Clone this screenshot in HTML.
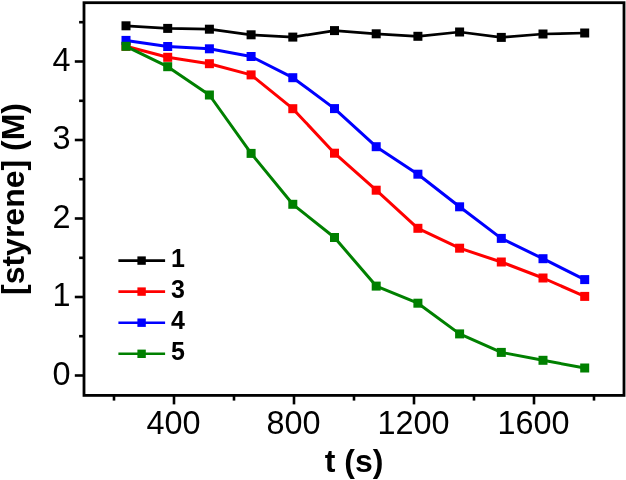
<!DOCTYPE html>
<html lang="en"><head><meta charset="utf-8"><title>[styrene] vs t</title>
<style>
html,body{margin:0;padding:0;background:#fff;}
body{width:626px;height:480px;overflow:hidden;}
svg{display:block;}
text{font-family:"Liberation Sans",Arial,Helvetica,sans-serif;fill:#000;}
.tk{font-size:32.4px;}
.ttl{font-size:32px;font-weight:bold;}
.lg{font-size:25px;font-weight:bold;}
</style></head><body>
<svg width="626" height="480" viewBox="0 0 626 480">
<defs><filter id="soft" x="-2%" y="-2%" width="104%" height="104%" color-interpolation-filters="sRGB"><feGaussianBlur stdDeviation="0.6"/></filter></defs>
<rect x="0" y="0" width="626" height="480" fill="#fff"/>
<g filter="url(#soft)">
<polyline points="126.0,25.8 167.7,28.4 209.4,29.2 251.1,34.8 292.8,37.1 334.5,30.6 376.2,33.8 417.9,36.3 459.6,32.0 501.3,37.4 543.0,34.0 584.7,33.0" fill="none" stroke="#000000" stroke-width="2.7" stroke-linejoin="round"/>
<rect x="121.5" y="21.3" width="9.0" height="9.0" fill="#000000"/>
<rect x="163.2" y="23.9" width="9.0" height="9.0" fill="#000000"/>
<rect x="204.9" y="24.7" width="9.0" height="9.0" fill="#000000"/>
<rect x="246.6" y="30.3" width="9.0" height="9.0" fill="#000000"/>
<rect x="288.3" y="32.6" width="9.0" height="9.0" fill="#000000"/>
<rect x="330.0" y="26.1" width="9.0" height="9.0" fill="#000000"/>
<rect x="371.7" y="29.3" width="9.0" height="9.0" fill="#000000"/>
<rect x="413.4" y="31.8" width="9.0" height="9.0" fill="#000000"/>
<rect x="455.1" y="27.5" width="9.0" height="9.0" fill="#000000"/>
<rect x="496.8" y="32.9" width="9.0" height="9.0" fill="#000000"/>
<rect x="538.5" y="29.5" width="9.0" height="9.0" fill="#000000"/>
<rect x="580.2" y="28.5" width="9.0" height="9.0" fill="#000000"/>
<polyline points="126.0,46.3 167.7,57.3 209.4,63.7 251.1,74.9 292.8,108.7 334.5,153.2 376.2,190.2 417.9,228.3 459.6,248.2 501.3,262.0 543.0,278.0 584.7,296.4" fill="none" stroke="#ff0000" stroke-width="3.0" stroke-linejoin="round"/>
<rect x="121.5" y="41.8" width="9.0" height="9.0" fill="#ff0000"/>
<rect x="163.2" y="52.8" width="9.0" height="9.0" fill="#ff0000"/>
<rect x="204.9" y="59.2" width="9.0" height="9.0" fill="#ff0000"/>
<rect x="246.6" y="70.4" width="9.0" height="9.0" fill="#ff0000"/>
<rect x="288.3" y="104.2" width="9.0" height="9.0" fill="#ff0000"/>
<rect x="330.0" y="148.7" width="9.0" height="9.0" fill="#ff0000"/>
<rect x="371.7" y="185.7" width="9.0" height="9.0" fill="#ff0000"/>
<rect x="413.4" y="223.8" width="9.0" height="9.0" fill="#ff0000"/>
<rect x="455.1" y="243.7" width="9.0" height="9.0" fill="#ff0000"/>
<rect x="496.8" y="257.5" width="9.0" height="9.0" fill="#ff0000"/>
<rect x="538.5" y="273.5" width="9.0" height="9.0" fill="#ff0000"/>
<rect x="580.2" y="291.9" width="9.0" height="9.0" fill="#ff0000"/>
<polyline points="126.0,40.4 167.7,46.5 209.4,48.8 251.1,56.5 292.8,77.7 334.5,108.6 376.2,146.7 417.9,174.2 459.6,206.8 501.3,238.4 543.0,258.7 584.7,279.6" fill="none" stroke="#0000ff" stroke-width="3.0" stroke-linejoin="round"/>
<rect x="121.5" y="35.9" width="9.0" height="9.0" fill="#0000ff"/>
<rect x="163.2" y="42.0" width="9.0" height="9.0" fill="#0000ff"/>
<rect x="204.9" y="44.3" width="9.0" height="9.0" fill="#0000ff"/>
<rect x="246.6" y="52.0" width="9.0" height="9.0" fill="#0000ff"/>
<rect x="288.3" y="73.2" width="9.0" height="9.0" fill="#0000ff"/>
<rect x="330.0" y="104.1" width="9.0" height="9.0" fill="#0000ff"/>
<rect x="371.7" y="142.2" width="9.0" height="9.0" fill="#0000ff"/>
<rect x="413.4" y="169.7" width="9.0" height="9.0" fill="#0000ff"/>
<rect x="455.1" y="202.3" width="9.0" height="9.0" fill="#0000ff"/>
<rect x="496.8" y="233.9" width="9.0" height="9.0" fill="#0000ff"/>
<rect x="538.5" y="254.2" width="9.0" height="9.0" fill="#0000ff"/>
<rect x="580.2" y="275.1" width="9.0" height="9.0" fill="#0000ff"/>
<polyline points="126.0,46.3 167.7,66.7 209.4,95.0 251.1,153.4 292.8,204.3 334.5,237.5 376.2,286.1 417.9,303.2 459.6,333.9 501.3,352.4 543.0,360.3 584.7,368.0" fill="none" stroke="#008000" stroke-width="3.0" stroke-linejoin="round"/>
<rect x="121.5" y="41.8" width="9.0" height="9.0" fill="#008000"/>
<rect x="163.2" y="62.2" width="9.0" height="9.0" fill="#008000"/>
<rect x="204.9" y="90.5" width="9.0" height="9.0" fill="#008000"/>
<rect x="246.6" y="148.9" width="9.0" height="9.0" fill="#008000"/>
<rect x="288.3" y="199.8" width="9.0" height="9.0" fill="#008000"/>
<rect x="330.0" y="233.0" width="9.0" height="9.0" fill="#008000"/>
<rect x="371.7" y="281.6" width="9.0" height="9.0" fill="#008000"/>
<rect x="413.4" y="298.7" width="9.0" height="9.0" fill="#008000"/>
<rect x="455.1" y="329.4" width="9.0" height="9.0" fill="#008000"/>
<rect x="496.8" y="347.9" width="9.0" height="9.0" fill="#008000"/>
<rect x="538.5" y="355.8" width="9.0" height="9.0" fill="#008000"/>
<rect x="580.2" y="363.5" width="9.0" height="9.0" fill="#008000"/>
<rect x="84.0" y="2.7" width="540.0" height="392.7" fill="none" stroke="#000" stroke-width="2.8"/>
<line x1="174.0" y1="395.4" x2="174.0" y2="404.4" stroke="#000" stroke-width="2.6"/>
<text class="tk" x="173.5" y="434.3" text-anchor="middle">400</text>
<line x1="294.0" y1="395.4" x2="294.0" y2="404.4" stroke="#000" stroke-width="2.6"/>
<text class="tk" x="293.5" y="434.3" text-anchor="middle">800</text>
<line x1="414.0" y1="395.4" x2="414.0" y2="404.4" stroke="#000" stroke-width="2.6"/>
<text class="tk" x="413.5" y="434.3" text-anchor="middle">1200</text>
<line x1="534.0" y1="395.4" x2="534.0" y2="404.4" stroke="#000" stroke-width="2.6"/>
<text class="tk" x="533.5" y="434.3" text-anchor="middle">1600</text>
<line x1="114.0" y1="395.4" x2="114.0" y2="400.6" stroke="#000" stroke-width="2.6"/>
<line x1="234.0" y1="395.4" x2="234.0" y2="400.6" stroke="#000" stroke-width="2.6"/>
<line x1="354.0" y1="395.4" x2="354.0" y2="400.6" stroke="#000" stroke-width="2.6"/>
<line x1="474.0" y1="395.4" x2="474.0" y2="400.6" stroke="#000" stroke-width="2.6"/>
<line x1="594.0" y1="395.4" x2="594.0" y2="400.6" stroke="#000" stroke-width="2.6"/>
<line x1="74.8" y1="375.5" x2="84.0" y2="375.5" stroke="#000" stroke-width="2.6"/>
<text class="tk" x="70.6" y="384.5" text-anchor="end">0</text>
<line x1="74.8" y1="297.0" x2="84.0" y2="297.0" stroke="#000" stroke-width="2.6"/>
<text class="tk" x="70.6" y="306.0" text-anchor="end">1</text>
<line x1="74.8" y1="218.5" x2="84.0" y2="218.5" stroke="#000" stroke-width="2.6"/>
<text class="tk" x="70.6" y="227.5" text-anchor="end">2</text>
<line x1="74.8" y1="140.0" x2="84.0" y2="140.0" stroke="#000" stroke-width="2.6"/>
<text class="tk" x="70.6" y="149.0" text-anchor="end">3</text>
<line x1="74.8" y1="61.5" x2="84.0" y2="61.5" stroke="#000" stroke-width="2.6"/>
<text class="tk" x="70.6" y="70.5" text-anchor="end">4</text>
<line x1="79.1" y1="336.2" x2="84.0" y2="336.2" stroke="#000" stroke-width="2.6"/>
<line x1="79.1" y1="257.8" x2="84.0" y2="257.8" stroke="#000" stroke-width="2.6"/>
<line x1="79.1" y1="179.2" x2="84.0" y2="179.2" stroke="#000" stroke-width="2.6"/>
<line x1="79.1" y1="100.8" x2="84.0" y2="100.8" stroke="#000" stroke-width="2.6"/>
<line x1="79.1" y1="22.2" x2="84.0" y2="22.2" stroke="#000" stroke-width="2.6"/>
<text class="ttl" x="354" y="471.6" text-anchor="middle">t (s)</text>
<text class="ttl" transform="translate(24.0,199) rotate(-90)" text-anchor="middle">[styrene] (M)</text>
<line x1="118.4" y1="260.6" x2="165.1" y2="260.6" stroke="#000000" stroke-width="2.6"/>
<rect x="137.4" y="256.4" width="8.4" height="8.4" fill="#000000"/>
<text class="lg" x="171.0" y="267.0">1</text>
<line x1="118.4" y1="291.6" x2="165.1" y2="291.6" stroke="#ff0000" stroke-width="2.6"/>
<rect x="137.4" y="287.4" width="8.4" height="8.4" fill="#ff0000"/>
<text class="lg" x="171.0" y="298.0">3</text>
<line x1="118.4" y1="322.7" x2="165.1" y2="322.7" stroke="#0000ff" stroke-width="2.6"/>
<rect x="137.4" y="318.5" width="8.4" height="8.4" fill="#0000ff"/>
<text class="lg" x="171.0" y="329.1">4</text>
<line x1="118.4" y1="353.8" x2="165.1" y2="353.8" stroke="#008000" stroke-width="2.6"/>
<rect x="137.4" y="349.6" width="8.4" height="8.4" fill="#008000"/>
<text class="lg" x="171.0" y="360.2">5</text>
</g></svg></body></html>
